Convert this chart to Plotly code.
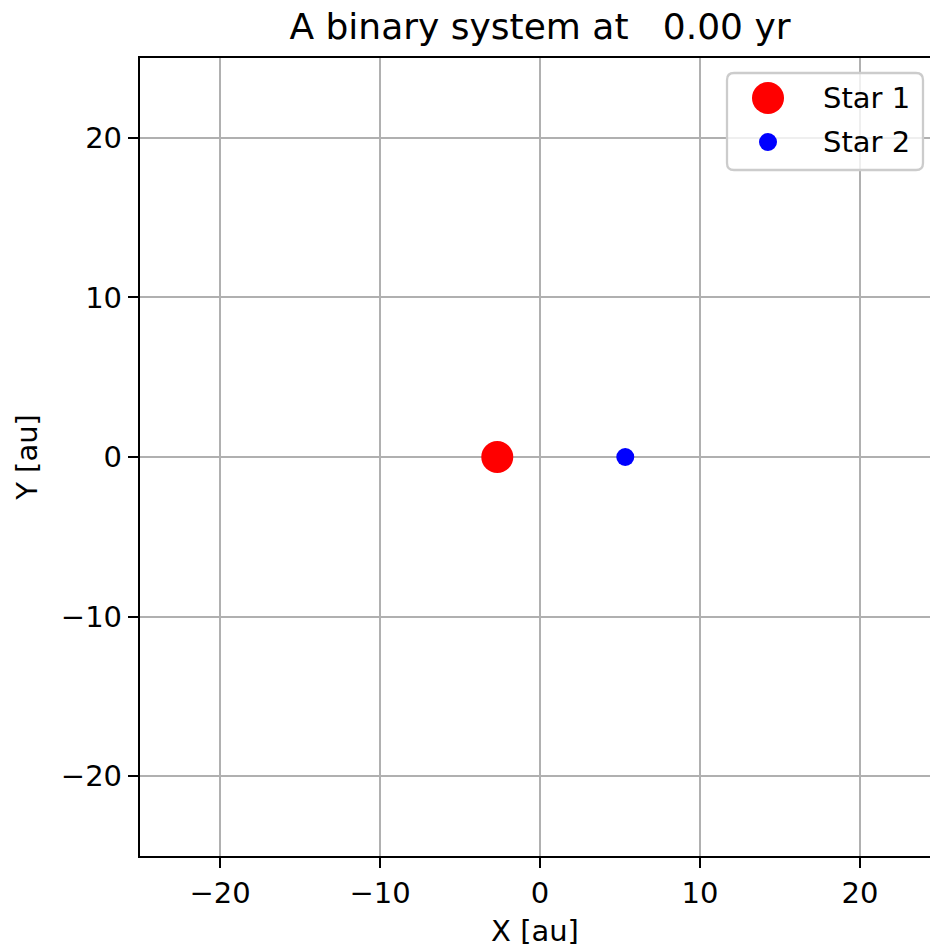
import plotly.graph_objects as go

# ---- data ----
star_names = ["Star 1", "Star 2"]
star_x = [-2.67, 5.33]
star_y = [0.0, 0.0]
star_colors = ["#ff0000", "#0000ff"]
star_sizes = [32, 18]
time_yr = 0.00
tick_vals = [-20, -10, 0, 10, 20]

W, H = 930, 948
L, R, T, B = 140, 0, 58, 92
pw, ph = W - L - R, H - T - B
FONT = "DejaVu Sans"
FS = 29

def px2paper(px, py):
    return (px - L) / pw, (H - B - py) / ph

fig = go.Figure()
for n, x, y, c, s in zip(star_names, star_x, star_y, star_colors, star_sizes):
    fig.add_trace(go.Scatter(x=[x], y=[y], mode="markers", name=n,
                             marker=dict(color=c, size=s, line=dict(width=0)),
                             showlegend=False))

axis_common = dict(
    showgrid=True, gridcolor="#b0b0b0", gridwidth=2.3,
    zeroline=False, showline=True, linecolor="black", linewidth=2.3,
    ticks="outside", ticklen=10, tickwidth=2.3, tickcolor="black",
    tickvals=tick_vals, tickfont=dict(family=FONT, size=FS, color="black"),
)
fig.update_xaxes(range=[-25, -25 + pw / 16.0], mirror=True,
                 title=dict(text="X [au]", font=dict(family=FONT, size=FS, color="black")),
                 **axis_common)
fig.update_yaxes(range=[-25, 25],
                 title=dict(text="Y [au]", font=dict(family=FONT, size=FS, color="black")),
                 **axis_common)

# ---- custom legend (matplotlib style) ----
bx0, by0, bx1, by1 = 727, 73, 923, 170
r = 7
def P(px, py):
    a, b = px2paper(px, py)
    return f"{a:.5f},{b:.5f}"
path = (f"M {P(bx0 + r, by0)} L {P(bx1 - r, by0)} Q {P(bx1, by0)} {P(bx1, by0 + r)} "
        f"L {P(bx1, by1 - r)} Q {P(bx1, by1)} {P(bx1 - r, by1)} "
        f"L {P(bx0 + r, by1)} Q {P(bx0, by1)} {P(bx0, by1 - r)} "
        f"L {P(bx0, by0 + r)} Q {P(bx0, by0)} {P(bx0 + r, by0)} Z")
shapes = [dict(type="path", xref="paper", yref="paper", path=path,
               fillcolor="rgba(255,255,255,0.8)", line=dict(color="#cccccc", width=2.3),
               layer="above")]
annotations = []
leg_rows = [98, 142]
for n, c, s, ry in zip(star_names, star_colors, star_sizes, leg_rows):
    ax, ay = px2paper(768, ry)
    shapes.append(dict(type="circle", xref="paper", yref="paper",
                       xsizemode="pixel", ysizemode="pixel", xanchor=ax, yanchor=ay,
                       x0=-s / 2, x1=s / 2, y0=-s / 2, y1=s / 2,
                       fillcolor=c, line=dict(width=0), layer="above"))
    tx, ty = px2paper(821, ry)
    annotations.append(dict(x=tx, y=ty, xref="paper", yref="paper", text=n,
                            showarrow=False, xanchor="left", yanchor="middle",
                            font=dict(family=FONT, size=FS, color="black")))

fig.update_layout(
    width=W, height=H, margin=dict(l=L, r=R, t=T, b=B, autoexpand=False),
    paper_bgcolor="white", plot_bgcolor="white",
    title=dict(text=f"A binary system at {time_yr:6.2f} yr".replace(" ", "&nbsp;"),
               x=540 / W, xanchor="center", y=1 - 26 / H, yanchor="middle",
               xref="container", yref="container",
               font=dict(family=FONT, size=36, color="black")),
    shapes=shapes, annotations=annotations, showlegend=False,
)

fig.write_html("out.html")
